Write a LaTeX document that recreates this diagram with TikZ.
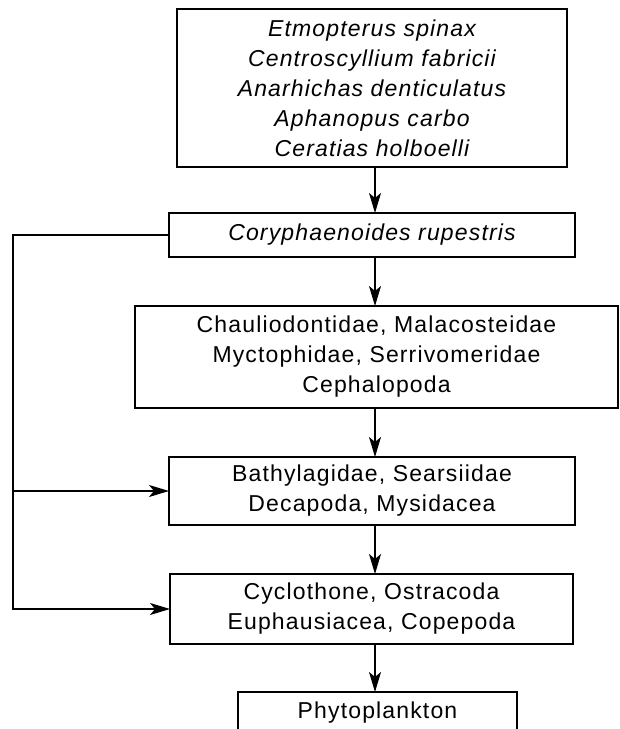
\documentclass[tikz,border=0pt]{standalone}
\usepackage{fontspec}
\setmainfont[LetterSpace=5]{Liberation Sans}
\usetikzlibrary{arrows.meta,positioning,calc}

\tikzset{
  taxon/.style={draw, line width=1.2pt, align=center,
    inner sep=0pt, outer sep=0pt,
    font=\fontsize{23}{30}\selectfont},
  species/.style={taxon, font=\fontsize{23}{30}\selectfont\itshape},
  eats/.style={line width=1.2pt,
    -{Stealth[length=20pt,width=12pt,inset=5pt]}}
}

\begin{document}
\begin{tikzpicture}[x=1pt,y=-1pt]
    \clip (0,0) rectangle (620,729);
    \coordinate (spine) at (375,0);
    \coordinate (rail) at (13,0);

    % food web levels
    \node[species, minimum width=390pt, minimum height=158pt] (top) at (372,88) {
      Etmopterus spinax\\
      Centroscyllium fabricii\\
      Anarhichas denticulatus\\
      Aphanopus carbo\\
      Ceratias holboelli};
    \node[species, minimum width=406pt, minimum height=44pt] (cory) at (372,235)
      {Coryphaenoides rupestris};
    \node[taxon, minimum width=483pt, minimum height=102pt] (chaul) at (376.5,357) {
      Chauliodontidae, Malacosteidae\\
      Myctophidae, Serrivomeridae\\
      Cephalopoda};
    \node[taxon, minimum width=406pt, minimum height=68pt] (bathy) at (372,491) {
      Bathylagidae, Searsiidae\\
      Decapoda, Mysidacea};
    \node[taxon, minimum width=403pt, minimum height=70pt] (cyclo) at (371.5,609) {
      Cyclothone, Ostracoda\\
      Euphausiacea, Copepoda};
    \node[taxon, anchor=north, minimum width=279pt, minimum height=42pt] (phyto)
      at (377.5,692) {Phytoplankton};

    % links
    \draw[eats] (top.south -| spine) -- (cory.north -| spine);
    \draw[eats] (cory.south -| spine) -- (chaul.north -| spine);
    \draw[eats] (chaul.south -| spine) -- (bathy.north -| spine);
    \draw[eats] (bathy.south -| spine) -- (cyclo.north -| spine);
    \draw[eats] (cyclo.south -| spine) -- (phyto.north -| spine);
    \draw[eats] (cory.west) -| (rail |- cyclo.west) -- (cyclo.west);
    \draw[eats] (rail |- bathy.west) -- (bathy.west);
\end{tikzpicture}
\end{document}
